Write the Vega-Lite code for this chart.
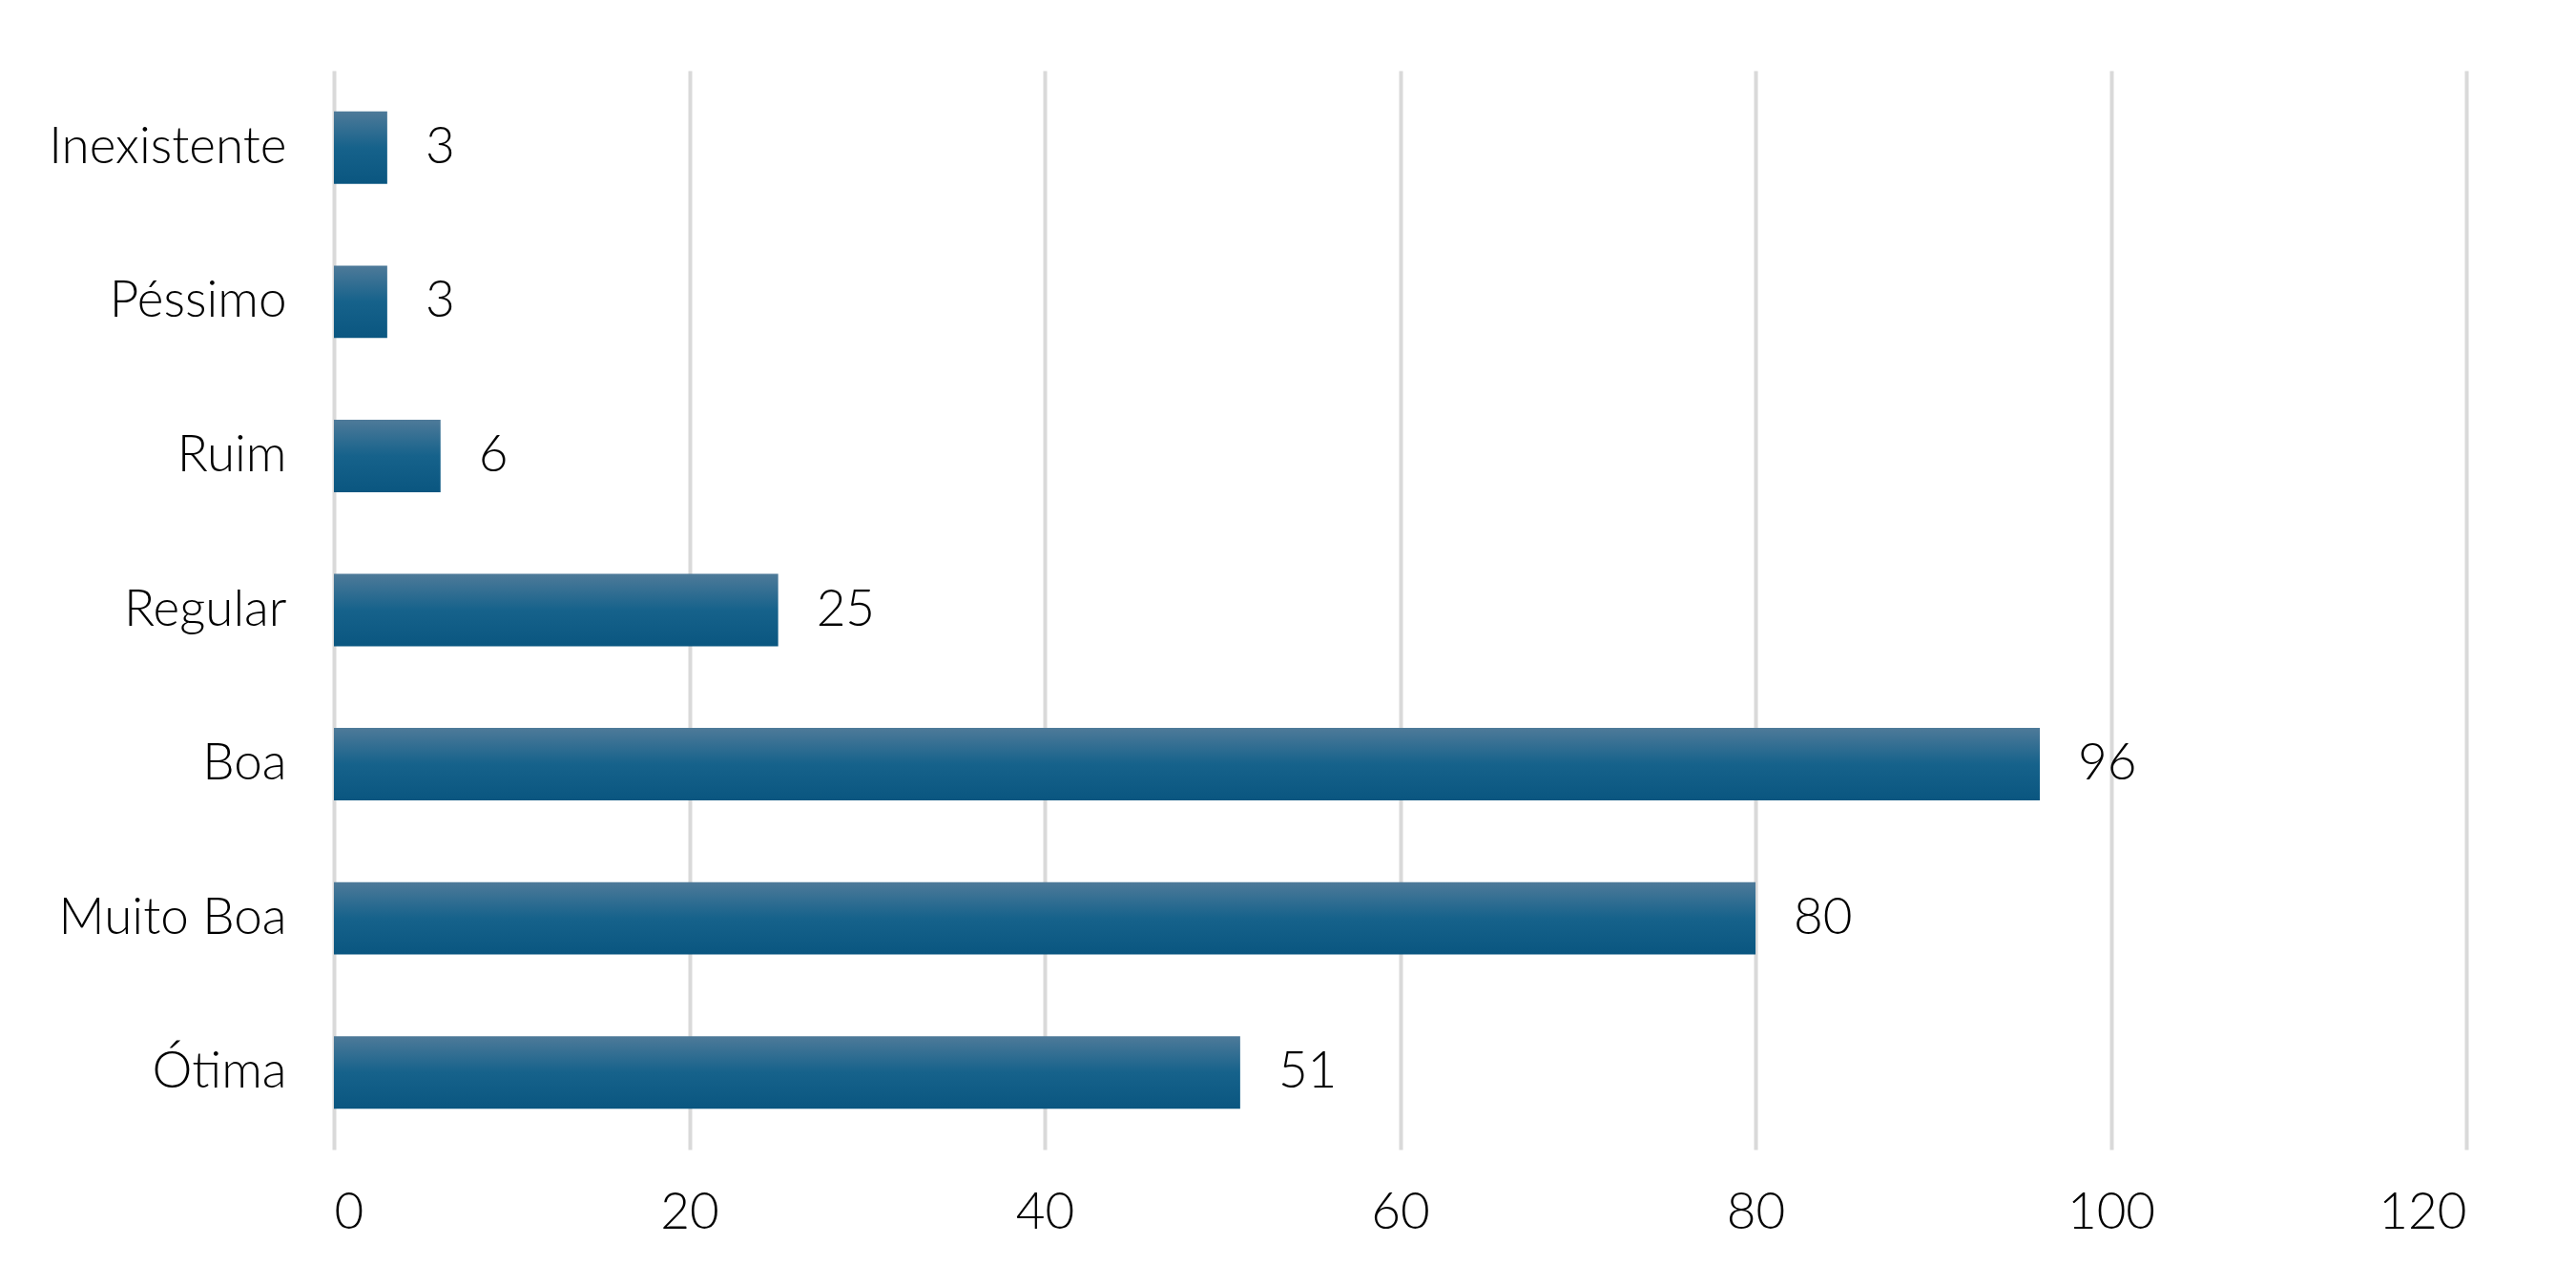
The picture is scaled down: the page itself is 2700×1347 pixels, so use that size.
{
  "$schema": "https://vega.github.io/schema/vega-lite/v6.json",
  "width": 2235,
  "height": 1131,
  "autosize": {"type": "none"},
  "padding": {"left": 350, "top": 74, "right": 115, "bottom": 142},
  "background": "white",
  "config": {
    "view": {"stroke": null},
    "font": "Lato"
  },
  "data": {
    "values": [
      {"categoria": "Inexistente", "total": 3},
      {"categoria": "Péssimo", "total": 3},
      {"categoria": "Ruim", "total": 6},
      {"categoria": "Regular", "total": 25},
      {"categoria": "Boa", "total": 96},
      {"categoria": "Muito Boa", "total": 80},
      {"categoria": "Ótima", "total": 51}
    ]
  },
  "encoding": {
    "y": {
      "field": "categoria",
      "type": "nominal",
      "sort": null,
      "scale": {"paddingInner": 0.53, "paddingOuter": 0.265},
      "axis": {
        "title": null,
        "domain": false,
        "ticks": false,
        "grid": false,
        "labelFontSize": 53,
        "labelFontWeight": 300,
        "labelColor": "#000000",
        "labelLimit": 0,
        "labelPadding": 50
      }
    },
    "x": {
      "field": "total",
      "type": "quantitative",
      "scale": {"domain": [0, 120], "nice": false},
      "axis": {
        "title": null,
        "values": [0, 20, 40, 60, 80, 100, 120],
        "domain": false,
        "ticks": false,
        "grid": true,
        "gridColor": "#d9d9d9",
        "gridWidth": 4,
        "labelFontSize": 53,
        "labelFontWeight": 300,
        "labelColor": "#000000",
        "labelPadding": 40
      }
    }
  },
  "layer": [
    {
      "mark": {
        "type": "bar",
        "color": {
          "gradient": "linear",
          "x1": 0, "y1": 0, "x2": 0, "y2": 1,
          "stops": [
            {"offset": 0, "color": "#4e7a99"},
            {"offset": 0.5, "color": "#16628b"},
            {"offset": 1, "color": "#0a5680"}
          ]
        }
      }
    },
    {
      "mark": {
        "type": "text",
        "align": "left",
        "baseline": "middle",
        "dx": 40,
        "fontSize": 53,
        "fontWeight": 300,
        "color": "#000000"
      },
      "encoding": {
        "text": {"field": "total", "type": "quantitative"}
      }
    }
  ]
}
